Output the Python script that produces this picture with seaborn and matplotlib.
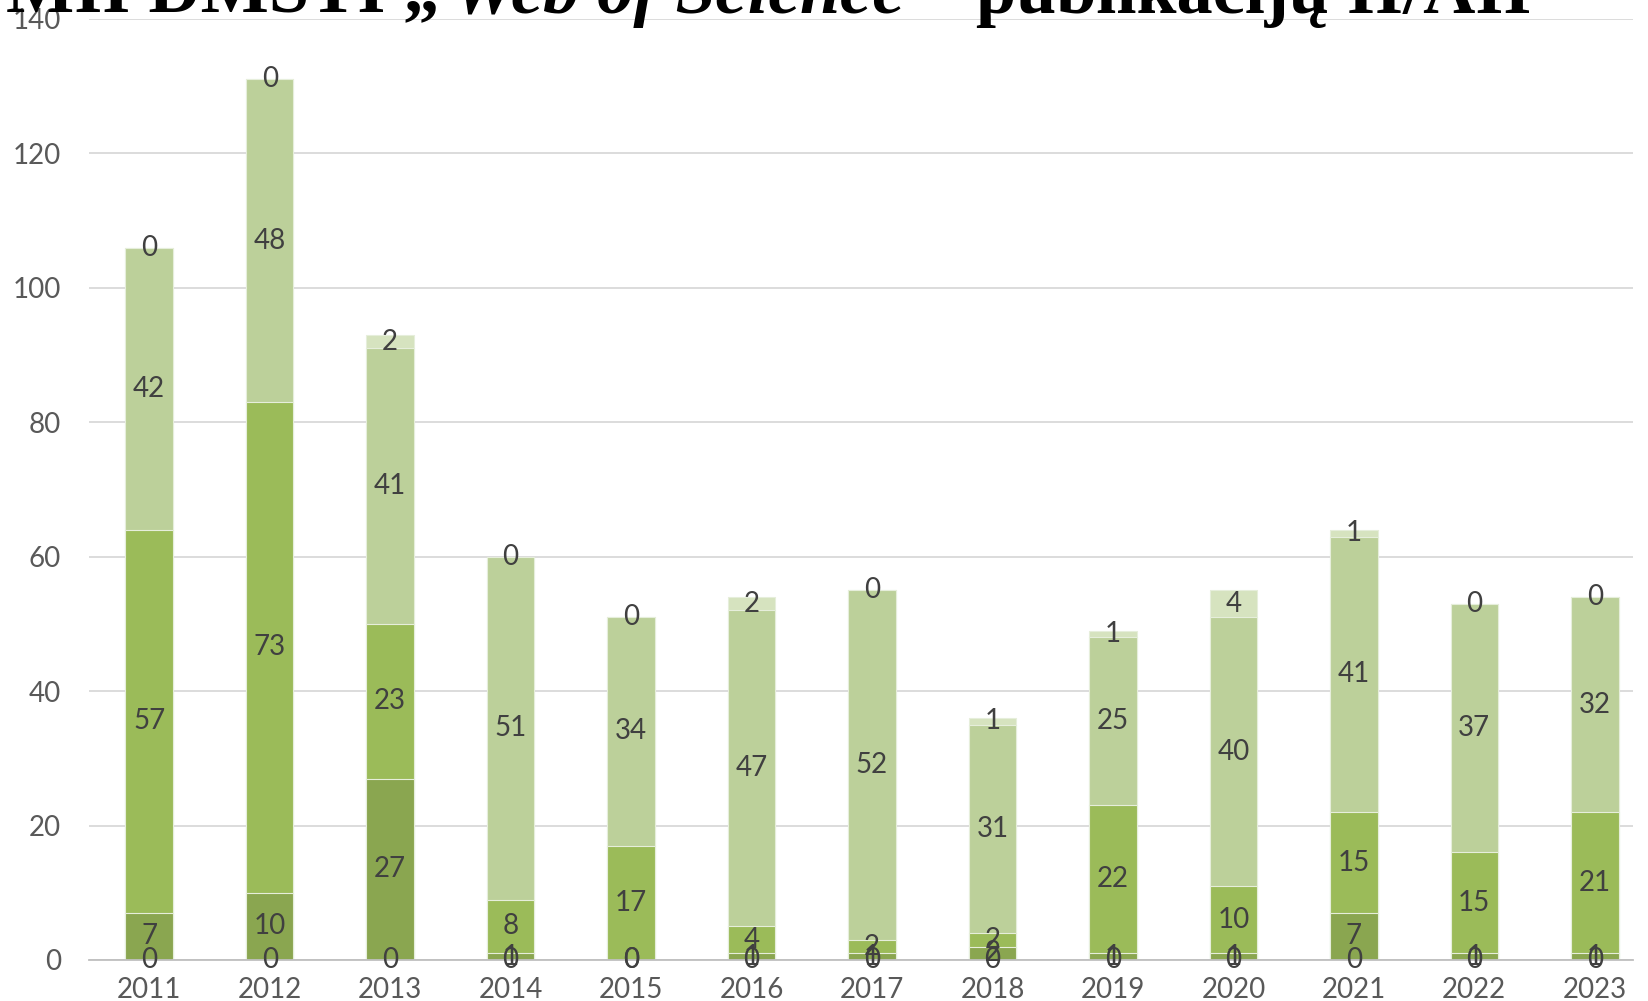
import numpy as np
import pandas as pd
import matplotlib
matplotlib.use('Agg')
import matplotlib.pyplot as plt
import seaborn as sns

# ## Data

years = ['2011', '2012', '2013', '2014', '2015', '2016', '2017',
         '2018', '2019', '2020', '2021', '2022', '2023']

s1 = [0, 0, 0, 0, 0, 0, 0, 0, 0, 0, 0, 0, 0]
s2 = [7, 10, 27, 1, 0, 1, 1, 2, 1, 1, 7, 1, 1]
s3 = [57, 73, 23, 8, 17, 4, 2, 2, 22, 10, 15, 15, 21]
s4 = [42, 48, 41, 51, 34, 47, 52, 31, 25, 40, 41, 37, 32]
s5 = [0, 0, 2, 0, 0, 2, 0, 1, 1, 4, 1, 0, 0]

series = [s1, s2, s3, s4, s5]
colors = ['#76923C', '#8AA650', '#9BBB59', '#BCD09A', '#D6E3BF']

yticks = [0, 20, 40, 60, 80, 100, 120, 140]

# ## Figure

sns.set_style('white')
plt.rcParams['font.family'] = ['Lato', 'DejaVu Sans']

W, H = 1649, 1001
fig = plt.figure(figsize=(W / 100, H / 100), dpi=100)

# axes in pixel units -> figure fraction
left, right, y0, y140 = 89, 1633, 960, 19
ax = fig.add_axes([left / W, (H - y0) / H, (right - left) / W, (y0 - y140) / H])

df = pd.DataFrame({'year': years})
cum = np.cumsum(np.array(series), axis=0)

# draw cumulative totals from the top layer down so each layer covers the one above
for k in range(len(series) - 1, -1, -1):
    df['total'] = cum[k]
    sns.barplot(data=df, x='year', y='total', color=colors[k], width=0.395,
                saturation=1, edgecolor='#e6eedb', linewidth=0.8, ax=ax, zorder=2)

# data labels in the middle of each segment
for k, vals in enumerate(series):
    bottoms = cum[k] - np.array(vals)
    for i, v in enumerate(vals):
        ax.text(i, bottoms[i] + v / 2, str(v), ha='center', va='center',
                fontsize=20, color='#404040', zorder=5)

ax.set_xlabel('')
ax.set_ylabel('')
ax.set_yticks(yticks)
ax.set_xticks(np.arange(-0.5, 13, 1), minor=True)
# limits after the ticks, otherwise set_xticks widens them
ax.set_ylim(0, 140)
ax.set_xlim(-0.5, 12.5 - 22 / 120.5)
ax.yaxis.grid(True, color='#d9d9d9', linewidth=1.3, zorder=0)
ax.set_axisbelow(True)

for sp in ['left', 'top', 'right']:
    ax.spines[sp].set_visible(False)
ax.spines['bottom'].set_color('#bfbfbf')
ax.spines['bottom'].set_linewidth(1.3)

ax.tick_params(axis='y', length=0, pad=20, labelsize=20, labelcolor='#595959')
ax.tick_params(axis='x', which='major', length=0, pad=12, labelsize=20, labelcolor='#595959')
ax.tick_params(axis='x', which='minor', length=32, width=1.3, color='#bfbfbf', direction='out')

# title, cut off at the top edge like the slide crop
base = 1 - 12.6 / H
tkw = dict(fontsize=52, fontweight='bold', color='black', va='baseline',
           family=['Liberation Serif', 'DejaVu Serif'])
fig.text(440 / W, base, 'MII DMSTI \u201e', ha='right', **tkw)
fig.text(452 / W, base, 'Web of Science', ha='left', style='italic', **tkw)
fig.text(912 / W, base, '\u201c', ha='left', **tkw)
fig.text(976 / W, base, 'publikacij\u0173 II/AII', ha='left', **tkw)

fig.savefig('out.png', dpi=100)
